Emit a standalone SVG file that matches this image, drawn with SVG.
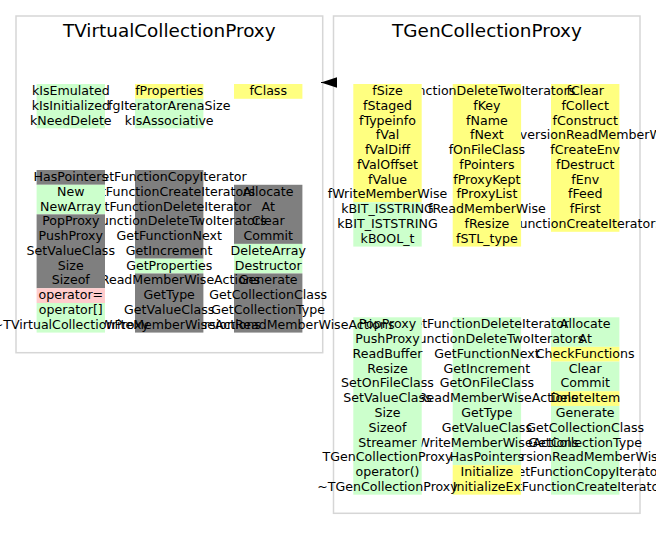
<svg xmlns="http://www.w3.org/2000/svg" width="656" height="541" viewBox="0 0 656 541">
<style>
.panel{fill:#ffffff;stroke:#d6d6d6;stroke-width:1.5}
.y{fill:#ffff80}
.g{fill:#ccffcc}
.d{fill:#7f7f7f}
.p{fill:#ffcccc}
text{font-family:"DejaVu Sans","Liberation Sans",sans-serif;font-size:12.6px;text-anchor:middle;fill:#000}
text.title{font-size:18.4px}
</style>
<defs>
<marker id="tri" viewBox="0 0 16 10.4" refX="16" refY="5.2" markerWidth="16" markerHeight="10.4" markerUnits="userSpaceOnUse" orient="auto">
<path d="M0,0 L16,5.2 L0,10.4 z" fill="#000"/>
</marker>
</defs>
<rect width="656" height="541" fill="#ffffff"/>

<g id="TGenCollectionProxy">
<rect class="panel" x="333.5" y="16" width="306.5" height="497.3"/>
<text class="title" x="487" y="36.5">TGenCollectionProxy</text>
<!-- data members: column 3 -->
<rect class="y" x="551" y="84" width="68.4" height="147.8"/>
<text x="585.2" y="95">fClear</text>
<text x="585.2" y="109.78">fCollect</text>
<text x="585.2" y="124.56">fConstruct</text>
<text x="585.2" y="139.34">fConversionReadMemberWise</text>
<text x="585.2" y="154.12">fCreateEnv</text>
<text x="585.2" y="168.9">fDestruct</text>
<text x="585.2" y="183.68">fEnv</text>
<text x="585.2" y="198.46">fFeed</text>
<text x="585.2" y="213.24">fFirst</text>
<text x="585.2" y="228.02">fFunctionCreateIterators</text>
<!-- column 2 -->
<rect class="y" x="452.7" y="84" width="68.4" height="162.58"/>
<text x="486.9" y="95">fFunctionDeleteTwoIterators</text>
<text x="486.9" y="109.78">fKey</text>
<text x="486.9" y="124.56">fName</text>
<text x="486.9" y="139.34">fNext</text>
<text x="486.9" y="154.12">fOnFileClass</text>
<text x="486.9" y="168.9">fPointers</text>
<text x="486.9" y="183.68">fProxyKept</text>
<text x="486.9" y="198.46">fProxyList</text>
<text x="486.9" y="213.24">fReadMemberWise</text>
<text x="486.9" y="228.02">fResize</text>
<text x="486.9" y="242.8">fSTL_type</text>
<!-- column 1 -->
<rect class="y" x="353.3" y="84" width="68.4" height="118.24"/>
<rect class="g" x="353.3" y="202.24" width="68.4" height="44.34"/>
<text x="387.5" y="95">fSize</text>
<text x="387.5" y="109.78">fStaged</text>
<text x="387.5" y="124.56">fTypeinfo</text>
<text x="387.5" y="139.34">fVal</text>
<text x="387.5" y="154.12">fValDiff</text>
<text x="387.5" y="168.9">fValOffset</text>
<text x="387.5" y="183.68">fValue</text>
<text x="387.5" y="198.46">fWriteMemberWise</text>
<text x="387.5" y="213.24">kBIT_ISSTRING</text>
<text x="387.5" y="228.02">kBIT_ISTSTRING</text>
<text x="387.5" y="242.8">kBOOL_t</text>
<!-- methods: column 3 -->
<rect class="g" x="551" y="317.3" width="68.4" height="29.56"/>
<rect class="y" x="551" y="346.86" width="68.4" height="14.78"/>
<rect class="g" x="551" y="361.64" width="68.4" height="29.56"/>
<rect class="y" x="551" y="391.2" width="68.4" height="14.78"/>
<rect class="g" x="551" y="405.98" width="68.4" height="88.68"/>
<text x="585.2" y="328.3">Allocate</text>
<text x="585.2" y="343.08">At</text>
<text x="585.2" y="357.86">CheckFunctions</text>
<text x="585.2" y="372.64">Clear</text>
<text x="585.2" y="387.42">Commit</text>
<text x="585.2" y="402.2">DeleteItem</text>
<text x="585.2" y="416.98">Generate</text>
<text x="585.2" y="431.76">GetCollectionClass</text>
<text x="585.2" y="446.54">GetCollectionType</text>
<text x="585.2" y="461.32">GetConversionReadMemberWiseActions</text>
<text x="585.2" y="476.1">GetFunctionCopyIterator</text>
<text x="585.2" y="490.88">GetFunctionCreateIterators</text>
<!-- column 2 -->
<rect class="g" x="452.7" y="317.3" width="68.4" height="147.8"/>
<rect class="y" x="452.7" y="465.1" width="68.4" height="29.56"/>
<text x="486.9" y="328.3">GetFunctionDeleteIterator</text>
<text x="486.9" y="343.08">GetFunctionDeleteTwoIterators</text>
<text x="486.9" y="357.86">GetFunctionNext</text>
<text x="486.9" y="372.64">GetIncrement</text>
<text x="486.9" y="387.42">GetOnFileClass</text>
<text x="486.9" y="402.2">GetReadMemberWiseActions</text>
<text x="486.9" y="416.98">GetType</text>
<text x="486.9" y="431.76">GetValueClass</text>
<text x="486.9" y="446.54">GetWriteMemberWiseActions</text>
<text x="486.9" y="461.32">HasPointers</text>
<text x="486.9" y="476.1">Initialize</text>
<text x="486.9" y="490.88">InitializeEx</text>
<!-- column 1 -->
<rect class="g" x="353.3" y="317.3" width="68.4" height="177.36"/>
<text x="387.5" y="328.3">PopProxy</text>
<text x="387.5" y="343.08">PushProxy</text>
<text x="387.5" y="357.86">ReadBuffer</text>
<text x="387.5" y="372.64">Resize</text>
<text x="387.5" y="387.42">SetOnFileClass</text>
<text x="387.5" y="402.2">SetValueClass</text>
<text x="387.5" y="416.98">Size</text>
<text x="387.5" y="431.76">Sizeof</text>
<text x="387.5" y="446.54">Streamer</text>
<text x="387.5" y="461.32">TGenCollectionProxy</text>
<text x="387.5" y="476.1">operator()</text>
<text x="387.5" y="490.88">~TGenCollectionProxy</text>
</g>

<g id="TVirtualCollectionProxy">
<rect class="panel" x="16" y="16" width="306.7" height="336.7"/>
<text class="title" x="169.3" y="36.5">TVirtualCollectionProxy</text>
<!-- data members -->
<rect class="y" x="234" y="84" width="68.4" height="14.78"/>
<text x="268.2" y="95">fClass</text>
<rect class="y" x="135" y="84" width="68.4" height="14.78"/>
<rect class="g" x="135" y="98.78" width="68.4" height="29.56"/>
<text x="169.2" y="95">fProperties</text>
<text x="169.2" y="109.78">fgIteratorArenaSize</text>
<text x="169.2" y="124.56">kIsAssociative</text>
<rect class="g" x="36.6" y="84" width="68.4" height="44.34"/>
<text x="70.8" y="95">kIsEmulated</text>
<text x="70.8" y="109.78">kIsInitialized</text>
<text x="70.8" y="124.56">kNeedDelete</text>
<!-- methods: column 3 -->
<rect class="d" x="234" y="184.78" width="68.4" height="59.12"/>
<rect class="g" x="234" y="243.9" width="68.4" height="29.56"/>
<rect class="d" x="234" y="273.46" width="68.4" height="59.12"/>
<text x="268.2" y="195.78">Allocate</text>
<text x="268.2" y="210.56">At</text>
<text x="268.2" y="225.34">Clear</text>
<text x="268.2" y="240.12">Commit</text>
<text x="268.2" y="254.9">DeleteArray</text>
<text x="268.2" y="269.68">Destructor</text>
<text x="268.2" y="284.46">Generate</text>
<text x="268.2" y="299.24">GetCollectionClass</text>
<text x="268.2" y="314.02">GetCollectionType</text>
<text x="268.2" y="328.8">GetConversionReadMemberWiseActions</text>
<!-- column 2 -->
<rect class="d" x="135" y="170" width="68.4" height="88.68"/>
<rect class="g" x="135" y="258.68" width="68.4" height="14.78"/>
<rect class="d" x="135" y="273.46" width="68.4" height="59.12"/>
<text x="169.2" y="181">GetFunctionCopyIterator</text>
<text x="169.2" y="195.78">GetFunctionCreateIterators</text>
<text x="169.2" y="210.56">GetFunctionDeleteIterator</text>
<text x="169.2" y="225.34">GetFunctionDeleteTwoIterators</text>
<text x="169.2" y="240.12">GetFunctionNext</text>
<text x="169.2" y="254.9">GetIncrement</text>
<text x="169.2" y="269.68">GetProperties</text>
<text x="169.2" y="284.46">GetReadMemberWiseActions</text>
<text x="169.2" y="299.24">GetType</text>
<text x="169.2" y="314.02">GetValueClass</text>
<text x="169.2" y="328.8">GetWriteMemberWiseActions</text>
<!-- column 1 -->
<rect class="d" x="36.6" y="170" width="68.4" height="14.78"/>
<rect class="g" x="36.6" y="184.78" width="68.4" height="29.56"/>
<rect class="d" x="36.6" y="214.34" width="68.4" height="73.9"/>
<rect class="p" x="36.6" y="288.24" width="68.4" height="14.78"/>
<rect class="g" x="36.6" y="303.02" width="68.4" height="29.56"/>
<text x="70.8" y="181">HasPointers</text>
<text x="70.8" y="195.78">New</text>
<text x="70.8" y="210.56">NewArray</text>
<text x="70.8" y="225.34">PopProxy</text>
<text x="70.8" y="240.12">PushProxy</text>
<text x="70.8" y="254.9">SetValueClass</text>
<text x="70.8" y="269.68">Size</text>
<text x="70.8" y="284.46">Sizeof</text>
<text x="70.8" y="299.24">operator=</text>
<text x="70.8" y="314.02">operator[]</text>
<text x="70.8" y="328.8">~TVirtualCollectionProxy</text>
</g>

<g id="connectors">
<path d="M336.7,82.5 L321,82.5" fill="none" stroke="#000" stroke-width="1" marker-end="url(#tri)"/>
</g>
</svg>
